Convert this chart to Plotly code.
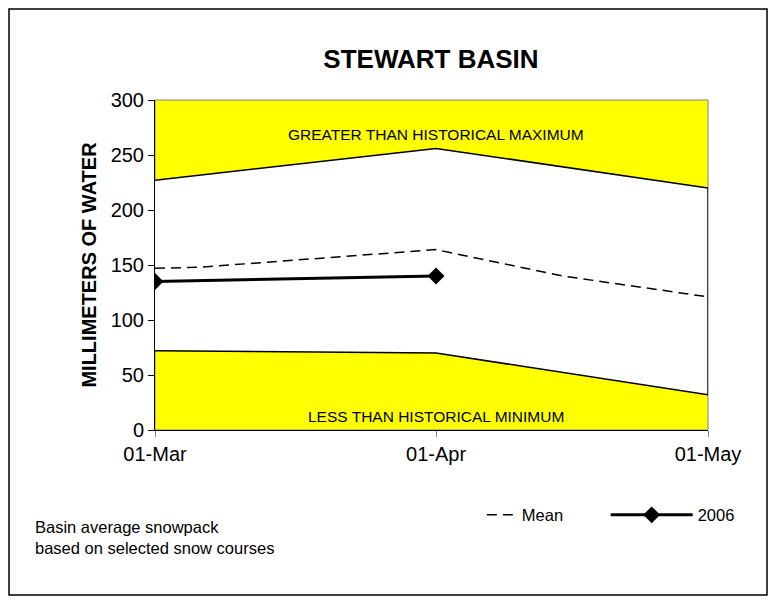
import plotly.graph_objects as go

# fechas y valores (mm de agua)
fechas = ["2006-03-01", "2006-04-01", "2006-05-01"]
maximo = [227, 256, 220]
minimo = [72, 70, 32]

fechas_media = ["2006-03-01", "2006-03-06", "2006-04-01", "2006-04-15", "2006-05-01"]
media = [147, 148, 164, 140, 121]

fechas_2006 = ["2006-03-01", "2006-04-01"]
valores_2006 = [135, 140]

fuente = "Arial, Liberation Sans, sans-serif"

fig = go.Figure()

# banda blanca entre mínimo y máximo histórico (el fondo amarillo queda fuera)
fig.add_trace(go.Scatter(x=fechas, y=minimo, mode="lines",
                         line=dict(color="black", width=1.5), showlegend=False, hoverinfo="skip"))
fig.add_trace(go.Scatter(x=fechas, y=maximo, mode="lines", fill="tonexty", fillcolor="white",
                         line=dict(color="black", width=1.5), showlegend=False, hoverinfo="skip"))
# borde derecho de la banda
fig.add_trace(go.Scatter(x=[fechas[-1], fechas[-1]], y=[minimo[-1], maximo[-1]], mode="lines",
                         line=dict(color="black", width=1.5), showlegend=False, hoverinfo="skip"))

fig.add_trace(go.Scatter(x=fechas_media, y=media, mode="lines", name="Mean", legend="legend",
                         line=dict(color="black", width=1.5, dash="10px,6px")))
fig.add_trace(go.Scatter(x=fechas_2006, y=valores_2006, mode="lines+markers", name="2006",
                         legend="legend2",
                         line=dict(color="black", width=3),
                         marker=dict(symbol="diamond", size=13, color="black")))

fig.add_annotation(x="2006-04-01", y=269, text="GREATER THAN HISTORICAL MAXIMUM",
                   showarrow=False, font=dict(family=fuente, size=15.5, color="black"))
fig.add_annotation(x="2006-04-01", y=12, text="LESS THAN HISTORICAL MINIMUM",
                   showarrow=False, font=dict(family=fuente, size=15.5, color="black"))
fig.add_annotation(xref="paper", yref="paper", x=-0.2206, y=-0.327, xanchor="left", yanchor="middle",
                   align="left", showarrow=False,
                   text="Basin average snowpack<br>based on selected snow courses",
                   font=dict(family=fuente, size=16.5, color="black"))

# marco exterior
fig.add_shape(type="rect", xref="paper", yref="paper", x0=-0.264, x1=1.1067, y0=-0.5, y1=1.276,
              line=dict(color="black", width=1.5))

# borde gris del área de trazado (arriba y derecha)
fig.add_shape(type="rect", xref="paper", yref="paper", x0=0, x1=1, y0=0, y1=1,
              line=dict(color="gray", width=1), layer="below")

# la página añade 8px de margen al cuerpo: se compensa en los márgenes
fig.update_layout(
    width=781, height=598,
    margin=dict(l=147, r=81, t=92, b=176),
    paper_bgcolor="white",
    plot_bgcolor="#FFFF00",
    font=dict(family=fuente, size=16, color="black"),
    title=dict(text="<b>STEWART BASIN</b>", x=0.5416, xanchor="center", y=0.915, yanchor="middle",
               font=dict(family=fuente, size=26, color="black")),
    showlegend=True,
    legend=dict(orientation="h", x=0.591, y=-0.258, xanchor="left", yanchor="middle",
                bgcolor="rgba(0,0,0,0)", font=dict(size=16.5), itemwidth=30),
    legend2=dict(orientation="h", x=0.815, y=-0.258, xanchor="left", yanchor="middle",
                 bgcolor="rgba(0,0,0,0)", font=dict(size=16.5), itemwidth=82),
    xaxis=dict(range=["2006-03-01", "2006-05-01"], tickvals=fechas, tickformat="%d-%b",
               showgrid=False, zeroline=False, showline=True, linecolor="black", linewidth=1,
               ticks="outside", ticklen=6, tickcolor="gray",
               tickfont=dict(size=20)),
    yaxis=dict(range=[0, 300], dtick=50, showgrid=False, zeroline=False, showline=True,
               linecolor="black", linewidth=1, ticks="outside", ticklen=6, tickcolor="black",
               tickfont=dict(size=20),
               title=dict(text="<b>MILLIMETERS OF WATER</b>", font=dict(size=20), standoff=8)),
)

fig.write_html("out.html")
